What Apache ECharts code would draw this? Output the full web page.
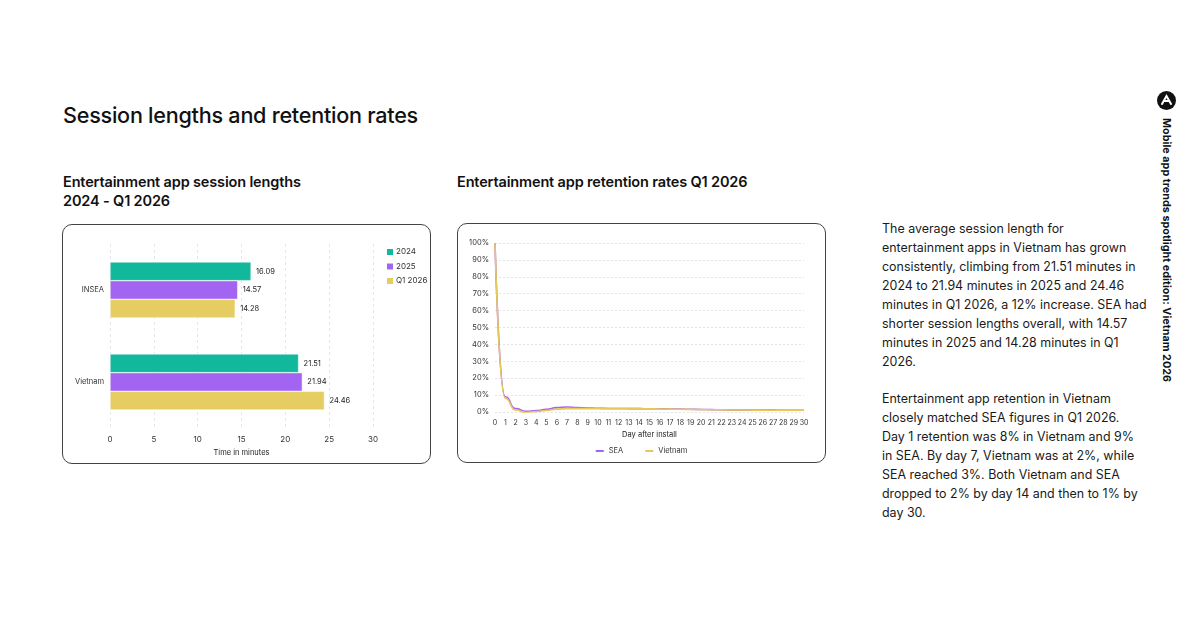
<!DOCTYPE html>
<html>
<head>
<meta charset="utf-8">
<script src="https://cdn.jsdelivr.net/npm/echarts@6/dist/echarts.min.js"></script>
<style>
  html, body { margin: 0; padding: 0; background: #fff; }
  body { width: 1200px; height: 630px; position: relative; overflow: hidden; font-family: Inter, "Noto Sans", sans-serif; color: #111; }
  .abs { position: absolute; }
  #title { left: 63px; top: 102px; font-size: 21.6px; font-weight: 500; letter-spacing: -0.25px; }
  .sub { font-size: 14.5px; font-weight: 600; line-height: 19px; letter-spacing: -0.15px; }
  .box { border: 1px solid #444; border-radius: 10px; box-sizing: border-box; }
  #para { left: 882px; top: 219px; font-size: 12.45px; line-height: 19px; color: #1a1a1a; }
  #side { left: 1166px; top: 118px; transform-origin: 0 0; transform: rotate(90deg) translate(0, -7px); font-size: 10.8px; font-weight: 700; white-space: nowrap; }
</style>
</head>
<body>
<div id="title" class="abs">Session lengths and retention rates</div>
<div class="abs sub" style="left:63px;top:172px;">Entertainment app session lengths<br>2024 - Q1 2026</div>
<div class="abs sub" style="left:457px;top:172px;">Entertainment app retention rates Q1 2026</div>
<div id="box1" class="abs box" style="left:62px;top:224px;width:369px;height:240px;"></div>
<div id="box2" class="abs box" style="left:457px;top:223px;width:369px;height:240px;"></div>
<div id="para" class="abs">
The average session length for<br>
entertainment apps in Vietnam has grown<br>
consistently, climbing from 21.51 minutes in<br>
2024 to 21.94 minutes in 2025 and 24.46<br>
minutes in Q1 2026, a 12% increase. SEA had<br>
shorter session lengths overall, with 14.57<br>
minutes in 2025 and 14.28 minutes in Q1<br>
2026.<br>
<div style="height:18px"></div>
Entertainment app retention in Vietnam<br>
closely matched SEA figures in Q1 2026.<br>
Day 1 retention was 8% in Vietnam and 9%<br>
in SEA. By day 7, Vietnam was at 2%, while<br>
SEA reached 3%. Both Vietnam and SEA<br>
dropped to 2% by day 14 and then to 1% by<br>
day 30.
</div>
<svg class="abs" style="left:1157px;top:91px;" width="19" height="19" viewBox="0 0 19 19">
  <circle cx="9.5" cy="9.5" r="9.5" fill="#111"/>
  <path d="M5 13 L9.5 5 L14 13 M7 10 L12 10" stroke="#fff" stroke-width="2" fill="none" stroke-linecap="round"/>
</svg>
<div id="side" class="abs">Mobile app trends spotlight edition: Vietnam 2026</div>

<script>
// ---- Data ----
const barCategories = ['INSEA', 'Vietnam'];
const barSeriesNames = ['2024', '2025', 'Q1 2026'];
const values2024 = [16.09, 21.51];
const values2025 = [14.57, 21.94];
const valuesQ12026 = [14.28, 24.46];
const barXTicks = [0, 5, 10, 15, 20, 25, 30];

const days = ['0','1','2','3','4','5','6','7','8','9','10','11','12','13','14','15','16','17','18','19','20','21','22','23','24','25','26','27','28','29','30'];
const seaRetention = [100, 9, 2, 0.4, 0.8, 1.6, 2.6, 3, 2.6, 2.4, 2.2, 2.1, 2.1, 2, 2, 1.9, 1.9, 1.8, 1.7, 1.6, 1.5, 1.4, 1.3, 1.2, 1.2, 1.1, 1.1, 1.1, 1, 1, 1];
const vietnamRetention = [100, 8, 1.2, -0.3, 0.2, 0.9, 1.7, 2, 2, 2, 2, 2, 2, 2, 2, 1.9, 1.8, 1.7, 1.6, 1.5, 1.4, 1.3, 1.3, 1.2, 1.2, 1.1, 1.1, 1, 1, 1, 1];
const retentionTicks = [0,10,20,30,40,50,60,70,80,90,100];

const colors = ['#12b89c', '#a464f2', '#e5cd62'];
const FONT = 'Inter, "Noto Sans", sans-serif';

// ---- Bar chart ----
const c1 = echarts.init(document.getElementById('box1'));
const barData = [values2024, values2025, valuesQ12026];
c1.setOption({
  animation: false,
  textStyle: { fontFamily: FONT },
  legend: {
    orient: 'vertical', left: 317, top: 17, itemWidth: 8, itemHeight: 8, itemGap: 4.5,
    icon: 'rect', textStyle: { fontSize: 8, color: '#333', fontFamily: FONT, padding: [0, 0, 0, -3] },
    data: barSeriesNames
  },
  grid: { left: 47, right: 57, top: 19, bottom: 35 },
  xAxis: {
    type: 'value', min: 0, max: 30, interval: 5,
    name: 'Time in minutes', nameLocation: 'middle', nameGap: 14,
    nameTextStyle: { fontSize: 7.5, color: '#222', fontFamily: FONT },
    axisLine: { show: false }, axisTick: { show: false },
    axisLabel: { fontSize: 8, color: '#333', margin: 8 },
    splitLine: { lineStyle: { color: '#e6e6e6', type: [3, 3] } }
  },
  yAxis: {
    type: 'category', data: barCategories, inverse: true,
    axisLine: { show: false }, axisTick: { show: false },
    axisLabel: { fontSize: 7.5, color: '#333', margin: 6 }
  },
  series: barSeriesNames.map((n, i) => ({
    name: n, type: 'bar', data: barData[i], barGap: '0%', barCategoryGap: '39%',
    itemStyle: { color: colors[i], borderColor: '#fff', borderWidth: 0.5 },
    label: { show: true, position: 'right', fontSize: 7.5, color: '#222', distance: 5 }
  }))
});

// ---- Line chart ----
const c2 = echarts.init(document.getElementById('box2'));
c2.setOption({
  animation: false,
  textStyle: { fontFamily: FONT },
  legend: {
    bottom: 2, left: 'center', itemWidth: 8, itemHeight: 2, itemGap: 22,
    textStyle: { fontSize: 7.5, color: '#333', fontFamily: FONT },
    data: [{ name: 'SEA', icon: 'rect' }, { name: 'Vietnam', icon: 'rect' }]
  },
  grid: { left: 37, right: 21, top: 19, bottom: 50 },
  xAxis: {
    type: 'category', data: days, boundaryGap: false,
    name: 'Day after install', nameLocation: 'middle', nameGap: 19,
    nameTextStyle: { fontSize: 7.5, color: '#222', fontFamily: FONT },
    axisLine: { show: false }, axisTick: { show: false },
    axisLabel: { fontSize: 7, color: '#333', interval: 0, margin: 7 }
  },
  yAxis: {
    type: 'value', min: 0, max: 100, interval: 10,
    axisLine: { show: false }, axisTick: { show: false },
    axisLabel: { fontSize: 7.5, color: '#333', formatter: '{value}%', margin: 6 },
    splitLine: { lineStyle: { color: '#e4e4e4', type: [2, 2] } }
  },
  series: [
    { name: 'SEA', type: 'line', data: seaRetention, smooth: 0.6, smoothMonotone: 'x', showSymbol: false,
      lineStyle: { color: '#a464f2', width: 1.6 }, itemStyle: { color: '#a464f2' } },
    { name: 'Vietnam', type: 'line', data: vietnamRetention, smooth: 0.6, smoothMonotone: 'x', showSymbol: false,
      lineStyle: { color: '#e8c85a', width: 1.6 }, itemStyle: { color: '#e8c85a' } }
  ]
});
</script>
</body>
</html>
